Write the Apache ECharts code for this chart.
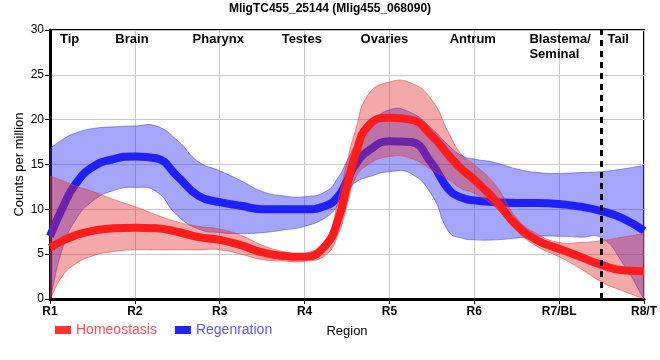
<!DOCTYPE html>
<html><head><meta charset="utf-8">
<script src="https://cdn.jsdelivr.net/npm/echarts@6/dist/echarts.min.js"></script>
<style>html,body{margin:0;padding:0;background:#fff}#c{width:660px;height:360px}</style>
</head><body><div id="c"></div>
<script>
// ---- data ----
const xTickLabels = ['R1','R2','R3','R4','R5','R6','R7/BL','R8/T'];
const regionNames = ['Tip','Brain','Pharynx','Testes','Ovaries','Antrum','Blastema/\nSeminal','Tail'];
const regionLabelPos = [1.117, 1.77, 2.68, 3.73, 4.66, 5.71, 6.65, 7.57];
const tailBoundary = 7.5;

const samplePos = [1, 1.15, 1.3, 1.5, 1.75, 2, 2.25, 2.5, 2.75, 3, 3.25, 3.5, 3.75, 4, 4.25, 4.4, 4.5, 4.6, 4.75, 5, 5.25, 5.5, 5.7, 5.85, 6, 6.25, 6.5, 6.75, 7, 7.25, 7.5, 7.75, 8];

const homeoMean  = [5.7, 6.5, 7.1, 7.6, 7.9, 7.95, 7.9, 7.5, 6.9, 6.6, 6.0, 5.2, 4.8, 4.7, 6.0, 9.0, 12.6, 16.1, 19.3, 20.2, 20.0, 18.2, 16.0, 14.5, 13.3, 11.0, 8.2, 6.5, 5.6, 4.7, 3.8, 3.2, 3.1];
const homeoUpper = [13.7, 13.2, 12.6, 12.0, 11.1, 10.3, 9.4, 8.6, 8.1, 7.8, 7.1, 6.0, 5.3, 5.1, 6.6, 11.2, 15.3, 18.8, 22.8, 24.2, 24.1, 22.2, 18.5, 16.1, 15.0, 12.7, 9.0, 7.2, 6.3, 6.3, 6.5, 6.9, 7.3];
const homeoLower = [0, 2.6, 3.9, 4.8, 5.3, 5.5, 5.5, 5.5, 5.5, 5.5, 5.0, 4.4, 4.25, 4.2, 4.9, 7.3, 10.4, 13.5, 15.0, 15.9, 15.7, 14.4, 13.3, 12.3, 11.8, 10.2, 7.6, 5.8, 4.7, 3.4, 1.9, 0.9, 0];

const regenMean  = [7.0, 10.2, 12.8, 14.7, 15.6, 15.9, 15.7, 13.7, 11.5, 10.8, 10.4, 10.0, 10.0, 10.0, 10.4, 11.5, 13.2, 15.0, 16.5, 17.6, 17.5, 15.1, 12.2, 11.3, 11.0, 10.8, 10.7, 10.7, 10.6, 10.3, 9.8, 9.0, 7.6];
const regenUpper = [16.8, 17.8, 18.5, 19.0, 19.2, 19.3, 19.3, 17.7, 15.3, 14.3, 13.2, 12.0, 11.5, 11.4, 12.0, 13.6, 15.4, 17.2, 19.2, 21.1, 20.8, 19.0, 17.1, 16.0, 15.6, 15.2, 14.5, 14.1, 14.0, 14.1, 14.2, 14.5, 14.9];
const regenLower = [0, 5.7, 8.8, 10.9, 12.1, 12.45, 12.0, 9.3, 7.8, 7.4, 7.3, 7.4, 7.7, 8.1, 9.1, 10.5, 11.9, 13.0, 13.6, 14.2, 14.0, 11.6, 7.5, 6.8, 6.6, 6.6, 6.8, 7.0, 7.0, 6.9, 6.8, 4.0, 0];

// ---- helpers ----
function smoothSeg(pts, s) {
  const n = pts.length;
  const cps = pts.map((p, i) => {
    const prev = pts[Math.max(i - 1, 0)], next = pts[Math.min(i + 1, n - 1)];
    const vx = (next[0] - prev[0]) * s, vy = (next[1] - prev[1]) * s;
    const d0 = Math.hypot(p[0] - prev[0], p[1] - prev[1]);
    const d1 = Math.hypot(next[0] - p[0], next[1] - p[1]);
    const sum = (d0 + d1) || 1;
    return [[p[0] - vx * d0 / sum, p[1] - vy * d0 / sum], [p[0] + vx * d1 / sum, p[1] + vy * d1 / sum]];
  });
  let d = '';
  for (let i = 0; i < n - 1; i++) {
    const a = cps[i][1], b = cps[i + 1][0], q = pts[i + 1];
    d += ' C' + a[0] + ',' + a[1] + ' ' + b[0] + ',' + b[1] + ' ' + q[0] + ',' + q[1];
  }
  return d;
}

function bandSeries(id, upper, lower, fill, stroke, z) {
  return {
    type: 'custom', id: id, z: z, clip: true, silent: true,
    data: [[1, 0]],
    renderItem: function (params, api) {
      const U = samplePos.map((x, i) => api.coord([x, upper[i]]));
      const L = samplePos.map((x, i) => api.coord([x, lower[i]])).reverse();
      const d = 'M' + U[0][0] + ',' + U[0][1] + smoothSeg(U, 0.5) +
                ' L' + L[0][0] + ',' + L[0][1] + smoothSeg(L, 0.5) + ' Z';
      return { type: 'path', shape: { pathData: d }, style: { fill: fill, stroke: stroke, lineWidth: 1 } };
    }
  };
}

const chart = echarts.init(document.getElementById('c'), null, { renderer: 'canvas' });
const FONT = 'Arial, "Liberation Sans", sans-serif';

chart.setOption({
  animation: false,
  backgroundColor: '#fff',
  title: {
    text: 'MligTC455_25144 (Mlig455_068090)', left: 'center', top: 3, padding: 0,
    textStyle: { fontSize: 12, fontWeight: 'bold', color: '#000', fontFamily: FONT }
  },
  legend: {
    left: 55, top: 323, padding: 0, icon: 'rect', itemWidth: 16, itemHeight: 8, itemGap: 18,
    selectedMode: false,
    textStyle: { fontSize: 14, fontFamily: FONT },
    data: [
      { name: 'Homeostasis', textStyle: { color: '#ff4d55' } },
      { name: 'Regenration', textStyle: { color: '#5a5aff' } }
    ]
  },
  grid: { left: 50, right: 10, top: 30, bottom: 61, show: true, borderColor: '#000', borderWidth: 2, backgroundColor: 'transparent' },
  xAxis: {
    type: 'value', min: 1, max: 8, interval: 1,
    name: 'Region', nameLocation: 'middle', nameGap: 26, nameMoveOverlap: false,
    nameTextStyle: { color: '#000', fontSize: 13, fontFamily: FONT },
    axisLine: { lineStyle: { color: '#000', width: 3 } },
    axisTick: { show: true, length: 5, lineStyle: { color: '#000', width: 1 } },
    axisLabel: { color: '#000', fontSize: 12, fontWeight: 'bold', fontFamily: FONT, margin: 7,
      formatter: v => xTickLabels[Math.round(v) - 1] || '' },
    splitLine: { show: true, lineStyle: { color: '#c8c8c8', width: 1 } }
  },
  yAxis: {
    type: 'value', min: 0, max: 30, interval: 5,
    name: 'Counts per million', nameLocation: 'middle', nameGap: 24, nameRotate: 90, nameMoveOverlap: false,
    nameTextStyle: { color: '#000', fontSize: 13, fontFamily: FONT },
    axisLine: { show: true, lineStyle: { color: '#000', width: 3 } },
    axisTick: { show: true, length: 5, lineStyle: { color: '#000', width: 1 } },
    axisLabel: { color: '#000', fontSize: 12, fontFamily: FONT, margin: 6 },
    splitLine: { show: true, lineStyle: { color: '#c8c8c8', width: 1 } }
  },
  series: [
    bandSeries('regenBand', regenUpper, regenLower, 'rgba(40,40,240,0.42)', 'rgba(60,60,235,0.55)', 1),
    {
      name: 'Regenration', type: 'line', z: 2, smooth: 0.5, showSymbol: false, symbol: 'none', silent: true,
      color: '#2222ff',
      lineStyle: { color: '#2020ff', width: 8 },
      data: samplePos.map((x, i) => [x, regenMean[i]])
    },
    bandSeries('homeoBand', homeoUpper, homeoLower, 'rgba(225,40,40,0.40)', 'rgba(225,60,60,0.55)', 3),
    {
      name: 'Homeostasis', type: 'line', z: 4, smooth: 0.5, showSymbol: false, symbol: 'none', silent: true,
      color: '#ff3333',
      lineStyle: { color: '#ff1c1c', width: 8 },
      data: samplePos.map((x, i) => [x, homeoMean[i]]),
      markLine: {
        silent: true, symbol: 'none', animation: false,
        label: { show: false },
        lineStyle: { color: '#000', width: 3, type: [6, 5] },
        data: [[{ coord: [tailBoundary, 0] }, { coord: [tailBoundary, 30] }]]
      }
    },
    {
      type: 'custom', id: 'regionLabels', z: 6, silent: true,
      data: regionLabelPos.map((p, i) => [p, i]),
      renderItem: function (params, api) {
        const i = api.value(1);
        const pt = api.coord([api.value(0), 30]);
        return {
          type: 'text',
          style: {
            text: regionNames[i], x: pt[0], y: pt[1] + 2,
            align: 'left', verticalAlign: 'top', lineHeight: 15,
            font: 'bold 13px Arial, "Liberation Sans", sans-serif', fill: '#000'
          }
        };
      }
    }
  ]
});
</script>
</body></html>
